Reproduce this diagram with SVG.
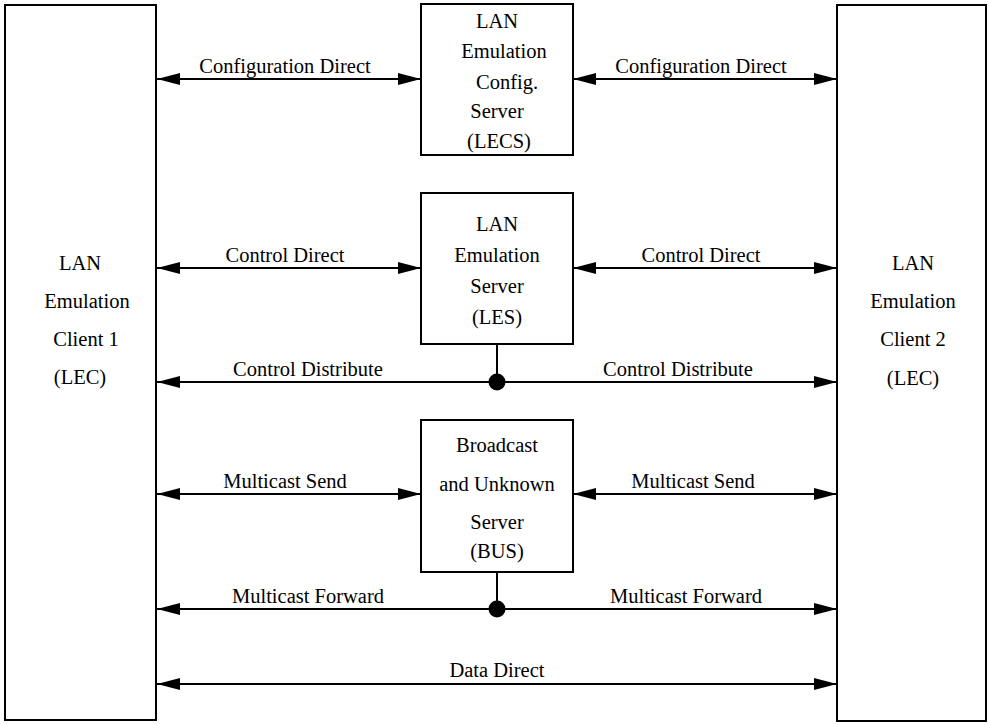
<svg xmlns="http://www.w3.org/2000/svg" width="989" height="724" viewBox="0 0 989 724">
  <style>
    .box { fill: #fff; stroke: #000; stroke-width: 2; }
    .lbl { font-family: "Liberation Serif", "Times New Roman", serif; font-size: 20.5px; fill: #000; text-anchor: middle; }
    .wire { stroke: #000; stroke-width: 2; fill: none; }
  </style>
  <defs>
    <marker id="head" viewBox="0 0 23 12" refX="23" refY="6" markerWidth="23" markerHeight="12" markerUnits="userSpaceOnUse" orient="auto-start-reverse">
      <path d="M0,0 L23,6 L0,12 Z" fill="#000"/>
    </marker>
  </defs>
  <rect width="989" height="724" fill="#fff"/>

  <!-- LAN Emulation Client 1 -->
  <g id="lec1">
    <rect class="box" x="5" y="5" width="151" height="715"/>
    <text class="lbl" x="80" y="270">LAN</text>
    <text class="lbl" x="87" y="308">Emulation</text>
    <text class="lbl" x="86" y="346">Client 1</text>
    <text class="lbl" x="80" y="384">(LEC)</text>
  </g>

  <!-- LAN Emulation Client 2 -->
  <g id="lec2">
    <rect class="box" x="837" y="5" width="149" height="716"/>
    <text class="lbl" x="913" y="270">LAN</text>
    <text class="lbl" x="913" y="308">Emulation</text>
    <text class="lbl" x="913" y="346">Client 2</text>
    <text class="lbl" x="913" y="385">(LEC)</text>
  </g>

  <!-- Configuration server -->
  <g id="lecs">
    <rect class="box" x="421" y="4" width="152" height="151"/>
    <text class="lbl" x="497" y="28">LAN</text>
    <text class="lbl" x="504" y="58">Emulation</text>
    <text class="lbl" x="507" y="89">Config.</text>
    <text class="lbl" x="497" y="118">Server</text>
    <text class="lbl" x="499" y="148">(LECS)</text>
  </g>

  <!-- LAN Emulation Server -->
  <g id="les">
    <rect class="box" x="421" y="193" width="152" height="151"/>
    <text class="lbl" x="497" y="231">LAN</text>
    <text class="lbl" x="497" y="262">Emulation</text>
    <text class="lbl" x="497" y="293">Server</text>
    <text class="lbl" x="497" y="324">(LES)</text>
  </g>

  <!-- Broadcast and Unknown Server -->
  <g id="bus">
    <rect class="box" x="421" y="420" width="152" height="152"/>
    <text class="lbl" x="497" y="452">Broadcast</text>
    <text class="lbl" x="497" y="491">and Unknown</text>
    <text class="lbl" x="497" y="529">Server</text>
    <text class="lbl" x="497" y="558">(BUS)</text>
  </g>

  <!-- Connections -->
  <g id="connectors">
    <!-- Configuration Direct -->
    <line class="wire" x1="157" y1="79" x2="421" y2="79" marker-start="url(#head)" marker-end="url(#head)"/>
    <line class="wire" x1="573" y1="79" x2="837" y2="79" marker-start="url(#head)" marker-end="url(#head)"/>
    <text class="lbl" x="285" y="73">Configuration Direct</text>
    <text class="lbl" x="701" y="73">Configuration Direct</text>

    <!-- Control Direct -->
    <line class="wire" x1="157" y1="268" x2="421" y2="268" marker-start="url(#head)" marker-end="url(#head)"/>
    <line class="wire" x1="573" y1="268" x2="837" y2="268" marker-start="url(#head)" marker-end="url(#head)"/>
    <text class="lbl" x="285" y="262">Control Direct</text>
    <text class="lbl" x="701" y="262">Control Direct</text>

    <!-- Control Distribute -->
    <line class="wire" x1="497" y1="344" x2="497" y2="382"/>
    <line class="wire" x1="157" y1="382" x2="837" y2="382" marker-start="url(#head)" marker-end="url(#head)"/>
    <circle cx="497" cy="382" r="8.5" fill="#000"/>
    <text class="lbl" x="308" y="376">Control Distribute</text>
    <text class="lbl" x="678" y="376">Control Distribute</text>

    <!-- Multicast Send -->
    <line class="wire" x1="157" y1="494" x2="421" y2="494" marker-start="url(#head)" marker-end="url(#head)"/>
    <line class="wire" x1="573" y1="494" x2="837" y2="494" marker-start="url(#head)" marker-end="url(#head)"/>
    <text class="lbl" x="285" y="488">Multicast Send</text>
    <text class="lbl" x="693" y="488">Multicast Send</text>

    <!-- Multicast Forward -->
    <line class="wire" x1="497" y1="572" x2="497" y2="609"/>
    <line class="wire" x1="157" y1="609" x2="837" y2="609" marker-start="url(#head)" marker-end="url(#head)"/>
    <circle cx="497" cy="609" r="8.5" fill="#000"/>
    <text class="lbl" x="308" y="603">Multicast Forward</text>
    <text class="lbl" x="686" y="603">Multicast Forward</text>

    <!-- Data Direct -->
    <line class="wire" x1="157" y1="684" x2="837" y2="684" marker-start="url(#head)" marker-end="url(#head)"/>
    <text class="lbl" x="497" y="677">Data Direct</text>
  </g>
</svg>
